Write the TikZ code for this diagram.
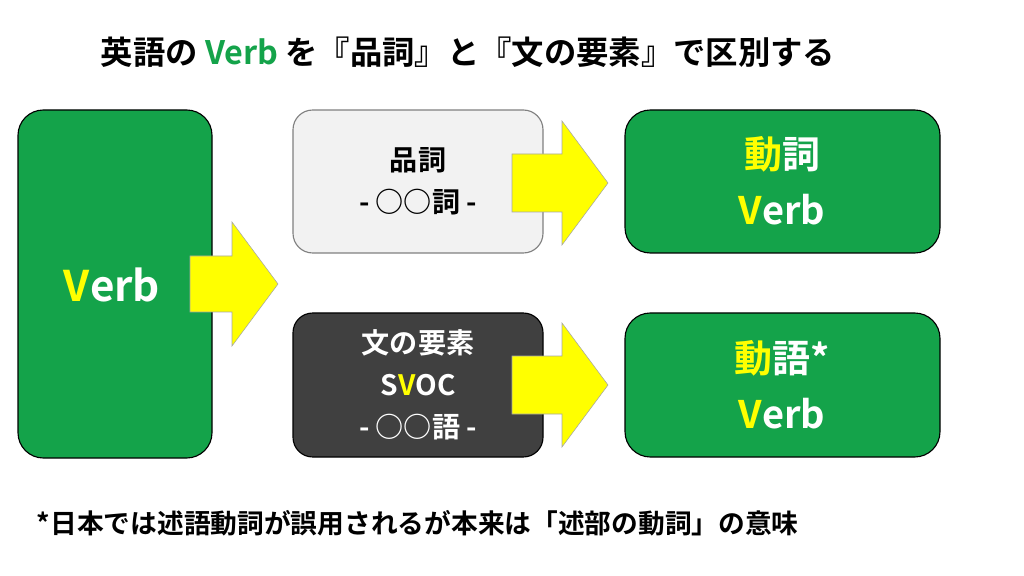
\documentclass[tikz,border=0pt]{standalone}
\usepackage{fontspec}
\setmainfont{Noto Sans CJK JP}[BoldFont={Noto Sans CJK JP Bold}]
\definecolor{vgreen}{HTML}{14A34A}
\definecolor{vyellow}{HTML}{FFFF00}
\definecolor{lgray}{HTML}{F2F2F2}
\definecolor{dgray}{HTML}{404040}
\tikzset{
  gbox/.style={draw=black, fill=vgreen, rounded corners=18pt, thick},
  pbox/.style={draw=gray, fill=lgray, rounded corners=14pt, thick},
  sbox/.style={draw=black, fill=dgray, rounded corners=14pt, thick},
  yarrow/.style={draw=gray!70, fill=vyellow},
  btext/.style={font=\bfseries, align=center}
}
\newcommand{\yv}[1]{\textcolor{vyellow}{#1}}
\begin{document}
\begin{tikzpicture}[x=0.025cm, y=-0.025cm]
    \useasboundingbox (0,0) rectangle (1024,576);

    % Titolo
    \node[btext, font=\bfseries\fontsize{23}{26}\selectfont] (title) at (468,52)
      {英語の \textcolor{vgreen}{Verb} を『品詞』と『文の要素』で区別する};

    % Box
    \draw[gbox] (18,110) rectangle (212,458);
    \node[btext, white, font=\bfseries\fontsize{30}{34}\selectfont] (verb) at (112,285) {\yv{V}erb};

    \draw[pbox] (293,110) rectangle (543,253);
    \node[btext, font=\bfseries\fontsize{20}{30}\selectfont] (hinshi) at (418,181) {品詞\\- ○○詞 -};

    \draw[sbox] (293,313) rectangle (543,457);
    \node[btext, white, font=\bfseries\fontsize{20}{30}\selectfont] (svoc) at (418,385)
      {文の要素\\S\yv{V}OC\\- ○○語 -};

    \draw[gbox] (625,110) rectangle (940,253);
    \node[btext, white, font=\bfseries\fontsize{27}{40}\selectfont] (doushi) at (782,181) {\yv{動}詞\\\yv{V}erb};

    \draw[gbox] (625,313) rectangle (940,457);
    \node[btext, white, font=\bfseries\fontsize{27}{40}\selectfont] (dougo) at (782,385) {\yv{動}語*\\\yv{V}erb};

    % Frecce
    \draw[yarrow] (190,256) -- (232,256) -- (232,222) -- (278,284) -- (232,346) -- (232,312) -- (190,312) -- cycle;
    \draw[yarrow] (512,154) -- (562,154) -- (562,121) -- (608,183) -- (562,245) -- (562,212) -- (512,212) -- cycle;
    \draw[yarrow] (512,356) -- (562,356) -- (562,323) -- (608,385) -- (562,447) -- (562,414) -- (512,414) -- cycle;

    % Nota
    \node[btext, anchor=west, font=\bfseries\fontsize{19}{22}\selectfont] (note) at (32,523)
      {*日本では述語動詞が誤用されるが本来は「述部の動詞」の意味};
\end{tikzpicture}
\end{document}
